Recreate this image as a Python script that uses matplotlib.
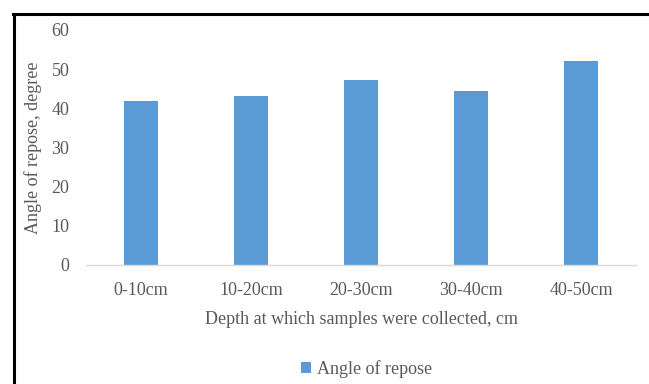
import matplotlib
matplotlib.use("Agg")
import matplotlib.pyplot as plt
from matplotlib.lines import Line2D

# depth intervals and measured angle of repose
depths = ["0-10cm", "10-20cm", "20-30cm", "30-40cm", "40-50cm"]
angle_of_repose = [41.9, 43.1, 47.2, 44.4, 52.1]
y_ticks = [0, 10, 20, 30, 40, 50, 60]

text_color = "#595959"
bar_color = "#5B9BD5"
fs = 13

plt.rcParams["font.family"] = ["Liberation Serif", "DejaVu Serif"]

fig = plt.figure(figsize=(6.49, 3.84), dpi=100)
ax = fig.add_axes([0.1325, 0.31, 0.848, 0.612])

x = range(len(depths))
ax.bar(x, angle_of_repose, width=0.31, color=bar_color, label="Angle of repose")

ax.set_xlim(-0.5, len(depths) - 0.5)
ax.set_ylim(0, 60)
ax.set_yticks(y_ticks)
ax.set_xticks(list(x))
ax.set_xticklabels(depths)
ax.tick_params(axis="both", length=0, labelsize=fs, labelcolor=text_color)
ax.tick_params(axis="y", pad=12)
ax.tick_params(axis="x", pad=12)

for side in ["top", "right", "left"]:
    ax.spines[side].set_visible(False)
ax.spines["bottom"].set_color("#d9d9d9")
ax.spines["bottom"].set_linewidth(1)

ax.set_ylabel("Angle of repose, degree", fontsize=fs, color=text_color, labelpad=7)
ax.set_xlabel("Depth at which samples were collected, cm", fontsize=fs,
              color=text_color, labelpad=9)

leg = fig.legend(loc="center", bbox_to_anchor=(0.565, 0.04), frameon=False,
                 fontsize=fs, handlelength=0.55, handleheight=0.55, handletextpad=0.3)
for t in leg.get_texts():
    t.set_color(text_color)

# black frame along top and left edges
fig.add_artist(Line2D([0.02, 1.0], [0.964, 0.964], transform=fig.transFigure,
                      color="black", linewidth=2.2))
fig.add_artist(Line2D([0.021, 0.021], [0.0, 0.964], transform=fig.transFigure,
                      color="black", linewidth=2.2))

fig.savefig("out.png", dpi=100, facecolor="white")
